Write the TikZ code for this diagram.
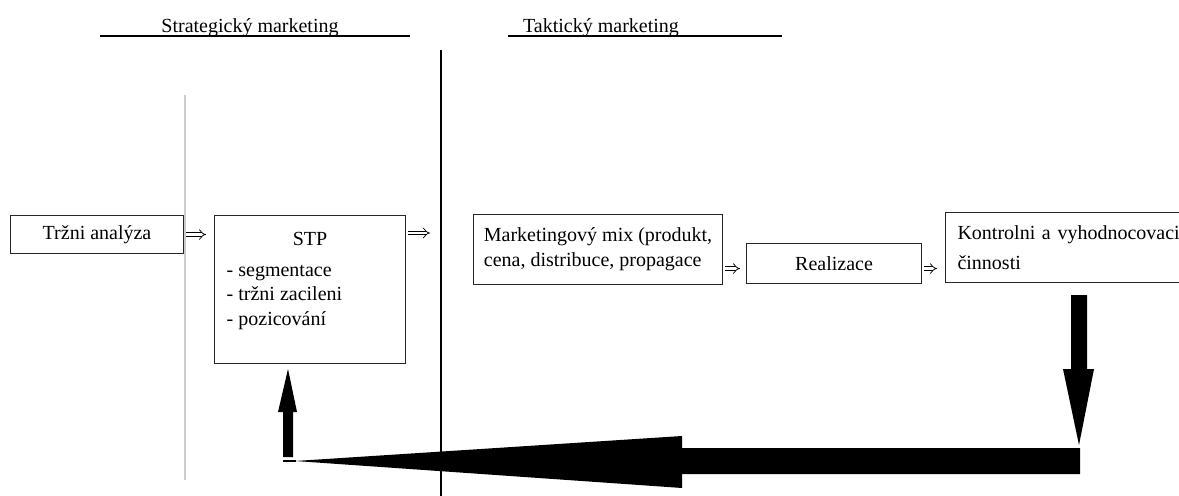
\documentclass[tikz,border=0pt]{standalone}
\usepackage{fontspec}
\setmainfont{Liberation Serif}
\usetikzlibrary{positioning, arrows.meta, calc}
\newlength\pxu
\setlength\pxu{0.75pt}
\tikzset{
  box/.style={rectangle, draw=black!85, line width=0.8pt, anchor=north west,
    inner sep=0pt},
  implies/.style={double=white, double distance=2.2pt, line width=0.55pt,
    -{Implies}, shorten <=2\pxu},
  fat/.style={fill=black}
}

\begin{document}
\begin{tikzpicture}[x=0.75pt, y=-0.75pt,
                    every node/.append style={font=\fontsize{15}{18.75}\selectfont}]
\clip (0,0) rectangle (1179,496);
\fill[white] (0,0) rectangle (1179,496);

% headers and dividing lines
\node (strat) [anchor=base] at (250,32) {Strategický marketing};
\node (takt)  [anchor=base] at (601,32) {Taktický marketing};
\draw[line width=0.8pt] (100,36) -- (410,36);
\draw[line width=0.8pt] (508,36) -- (782,36);
\draw[line width=0.8pt] (441,50) -- (441,496);
\draw[gray!40, line width=0.8pt] (185,95) -- (185,480);

% boxes
\node (trh) [box, minimum width=173\pxu, minimum height=38\pxu] at (10,215) {Tržni analýza};
\node (stp) [box, minimum width=191\pxu, minimum height=148\pxu] at (214,215) {};
\node (stpt) [anchor=base] at ($(stp.north)+(0,30)$) {STP};
\node (seg)  [anchor=base west] at ($(stp.north west)+(8,61)$) {- segmentace};
\node (cil)  [anchor=base west] at ($(stp.north west)+(8,85)$) {- tržni zacileni};
\node (poz)  [anchor=base west] at ($(stp.north west)+(8,110)$) {- pozicování};
\node (mix)  [box, minimum width=249\pxu, minimum height=70\pxu, align=left]
  at (473,214) {Marketingový mix (produkt,\\cena, distribuce, propagace};
\node (real) [box, minimum width=175\pxu, minimum height=40\pxu] at (746,243) {Realizace};
\node (kon)  [box, minimum height=70\pxu, inner xsep=12\pxu, text width=240\pxu, align=left]
  at (945,212) {Kontrolni a vyhodnocovaci\\[4pt]činnosti};

% small arrows
\coordinate (stpout)  at ($(stp.north east)+(0,18)$);
\coordinate (mixout)  at ($(real.west -| mix.east)+(0,5)$);
\coordinate (realout) at ($(real.east)+(0,5)$);
\draw[implies, shorten >=8\pxu]  (trh.east) -- (trh.east -| stp.west);
\draw[implies, shorten >=43\pxu] (stpout) -- (stpout -| mix.west);
\draw[implies, shorten >=6\pxu]  (mixout) -- (mixout -| real.west);
\draw[implies, shorten >=8\pxu]  (realout) -- (realout -| kon.west);

% feedback arrows
\fill[fat] (1071,295) -- (1087,295) -- (1087,369) -- (1094,369) -- (1079,445)
  -- (1063,369) -- (1071,369) -- cycle;
\fill[fat] (1080,448) -- (1080,474) -- (682,474) -- (682,488) -- (295,461)
  -- (682,436) -- (682,448) -- cycle;
\draw[line width=1pt] (283,461) -- (296,461);
\fill[fat] (283,457) -- (283,412) -- (278,412) -- (288,369) -- (297,412)
  -- (293,412) -- (293,457) -- cycle;
\end{tikzpicture}
\end{document}
